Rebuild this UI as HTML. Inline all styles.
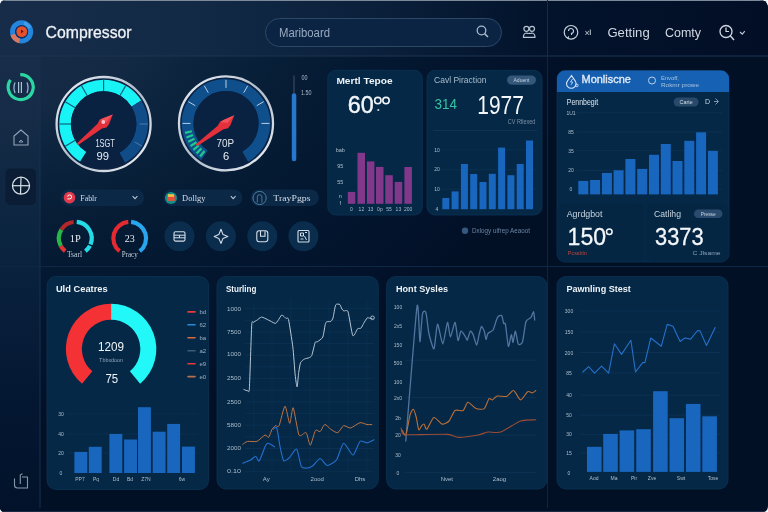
<!DOCTYPE html>
<html><head><meta charset="utf-8"><title>Compressor Dashboard</title>
<style>
html,body{margin:0;padding:0;background:#f4f6f8;}
body{width:768px;height:512px;overflow:hidden;}
svg{display:block;font-family:"Liberation Sans", sans-serif;}
</style></head><body>
<svg width="768" height="512" viewBox="0 0 768 512">
<defs>
<radialGradient id="bg" gradientUnits="userSpaceOnUse" cx="0" cy="0" r="1" gradientTransform="translate(0,0) scale(580,430)"><stop offset="0" stop-color="#182e48"/><stop offset="0.25" stop-color="#142a44"/><stop offset="0.36" stop-color="#0c243e"/><stop offset="0.62" stop-color="#041932"/><stop offset="0.9" stop-color="#02122a"/><stop offset="1" stop-color="#021026"/></radialGradient>
<linearGradient id="hdr" gradientUnits="userSpaceOnUse" x1="0" y1="0" x2="768" y2="0"><stop offset="0" stop-color="#172c48"/><stop offset="0.25" stop-color="#122a46"/><stop offset="0.5" stop-color="#0a1f3a"/><stop offset="0.7" stop-color="#03132c"/><stop offset="1" stop-color="#020e26"/></linearGradient>
<linearGradient id="side" gradientUnits="userSpaceOnUse" x1="0" y1="56" x2="0" y2="512"><stop offset="0" stop-color="#172d4a"/><stop offset="0.15" stop-color="#152b46"/><stop offset="0.4" stop-color="#0b2440"/><stop offset="0.75" stop-color="#041732"/><stop offset="1" stop-color="#02122a"/></linearGradient>
<linearGradient id="silver" x1="0" y1="0" x2="1" y2="1"><stop offset="0" stop-color="#eef2f8"/><stop offset="0.5" stop-color="#b0bccb"/><stop offset="1" stop-color="#f0f4f8"/></linearGradient>
<linearGradient id="mhdr" x1="0" y1="0" x2="1" y2="0"><stop offset="0" stop-color="#155cac"/><stop offset="1" stop-color="#1662b4"/></linearGradient>
<clipPath id="frame"><path d="M6,0 H759 Q768,0 768,9 V506 Q768,512 762,512 H5 Q0,512 0,507 V6 Q0,0 6,0 Z"/></clipPath>
</defs>
<rect x="0" y="0" width="768" height="512" fill="#f4f6f8"/>
<g clip-path="url(#frame)">
<rect x="0" y="0" width="768" height="512" fill="url(#bg)"/>
<rect x="0" y="0" width="768" height="56" fill="url(#hdr)"/>
<rect x="0" y="56" width="40" height="456" fill="url(#side)"/>
<path d="M0,0.5 H768" stroke="#7d8a9a" stroke-width="1.2"/>
<path d="M0,511.5 H768" stroke="#1c2a44" stroke-width="1"/>
</g>
<line x1="0" y1="56" x2="768" y2="56" stroke="#1c3452" stroke-width="1"/>
<line x1="40" y1="56" x2="40" y2="508" stroke="#17304e" stroke-width="1"/>
<line x1="547.5" y1="0" x2="547.5" y2="56" stroke="#132a48" stroke-width="1"/>
<line x1="547.5" y1="56" x2="547.5" y2="508" stroke="#0e2442" stroke-width="1"/>
<line x1="0" y1="266.5" x2="768" y2="266.5" stroke="#0f2746" stroke-width="1"/>
<circle cx="21.6" cy="31.8" r="9.1" fill="none" stroke="#2485dc" stroke-width="5"/>
<path d="M12.9,34.5 A9.1,9.1 0 0 0 19.5,40.7" fill="none" stroke="#d8785e" stroke-width="5"/>
<path d="M24,23 A9.1,9.1 0 0 1 29.8,28" fill="none" stroke="#5aaaf0" stroke-width="3" opacity="0.6"/>
<circle cx="21.6" cy="31.8" r="6.6" fill="#10306a"/>
<circle cx="21.8" cy="31.6" r="5.4" fill="#e6502a"/>
<path d="M21,29.6 L23.6,31.6 L21,33.6 Z" fill="#5a1a10"/>
<text x="45.6" y="38.3" font-size="17" fill="#eef2f7" text-anchor="start" font-weight="normal" textLength="86" lengthAdjust="spacingAndGlyphs" stroke="#eef2f7" stroke-width="0.3">Compressor</text>
<rect x="265.5" y="18.5" width="236" height="28" rx="14" fill="#0b2444" stroke="#2b4867" stroke-width="1"/>
<text x="279" y="36.7" font-size="12" fill="#98aabf" text-anchor="start" font-weight="normal" textLength="51" lengthAdjust="spacingAndGlyphs" >Mariboard</text>
<circle cx="481.5" cy="30.5" r="4.3" fill="none" stroke="#aab8c8" stroke-width="1.3"/>
<line x1="484.6" y1="33.6" x2="488" y2="37" stroke="#aab8c8" stroke-width="1.5"/>
<circle cx="526.4" cy="28.8" r="2.5" fill="none" stroke="#b8c4d2" stroke-width="1.2"/>
<circle cx="532" cy="28.8" r="2.5" fill="none" stroke="#b8c4d2" stroke-width="1.2"/>
<path d="M523.4,37.4 c0,-2.8 1.2,-4.2 3,-4.4 c1.2,0.6 2.2,0.6 2.8,0.2 c0.6,0.4 1.6,0.4 2.8,-0.2 c1.8,0.2 3,1.6 3,4.4 z" fill="none" stroke="#b8c4d2" stroke-width="1.2" stroke-linejoin="round"/>
<circle cx="571" cy="32.3" r="6.8" fill="none" stroke="#c8d2de" stroke-width="1.2"/>
<path d="M568.5,31 a2.5,2.5 0 1 1 3,2.4 v1.6 M569,36.5 l-1.5,1.5" fill="none" stroke="#c8d2de" stroke-width="1.1"/>
<text x="584.5" y="35.5" font-size="9" fill="#c0cad6" text-anchor="start" font-weight="normal" >×</text>
<line x1="590.3" y1="29.5" x2="590.3" y2="35" stroke="#c0cad6" stroke-width="1"/>
<text x="607.4" y="37" font-size="12.6" fill="#d0d8e2" text-anchor="start" font-weight="normal" textLength="42.3" lengthAdjust="spacingAndGlyphs" >Getting</text>
<text x="665" y="37" font-size="12.6" fill="#d0d8e2" text-anchor="start" font-weight="normal" textLength="36" lengthAdjust="spacingAndGlyphs" >Comty</text>
<circle cx="726" cy="31.5" r="6" fill="none" stroke="#d0d8e2" stroke-width="1.3"/>
<path d="M726,27.5 v4 h3" fill="none" stroke="#d0d8e2" stroke-width="1.2"/>
<line x1="730.2" y1="35.8" x2="734" y2="40" stroke="#d0d8e2" stroke-width="1.4"/>
<path d="M740,32 l2.3,2.2 l2.5,-3" fill="none" stroke="#c0cad6" stroke-width="1.1"/>
<path d="M20.26,74.61 A12.5,12.5 0 1 1 10.46,79.93" fill="none" stroke="#2bd7a2" stroke-width="3.2" />
<path d="M15,82.5 q-2,5 0,10.5 M27,82.5 q2,5 0,10.5" fill="none" stroke="#8fb2cc" stroke-width="1.3"/>
<line x1="18.6" y1="82" x2="18.6" y2="93" stroke="#a8c4d8" stroke-width="1.2"/>
<line x1="21.4" y1="82" x2="21.4" y2="93" stroke="#a8c4d8" stroke-width="1.2"/>
<path d="M14,145 v-9 l7,-6 l7,6 v9 z" fill="none" stroke="#93a6bb" stroke-width="1.1"/>
<path d="M19,142 l2,-2 l2,2 z" fill="none" stroke="#93a6bb" stroke-width="0.9"/>
<rect x="5.5" y="168.5" width="30.5" height="36.5" rx="5" fill="#0b1d35" />
<circle cx="21" cy="185.7" r="8.5" fill="none" stroke="#d8e0e8" stroke-width="1.3"/>
<line x1="12.5" y1="185.7" x2="29.5" y2="185.7" stroke="#d8e0e8" stroke-width="1.2"/>
<line x1="21" y1="177.2" x2="20.5" y2="194.2" stroke="#d8e0e8" stroke-width="1.2"/>
<path d="M14.5,478.5 v6.5 q0,3 3,3 h10 v-11 h-5.5 M20.3,484 v-9 l2.2,-1.4" fill="none" stroke="#8797aa" stroke-width="1.1" stroke-linejoin="round"/>
<circle cx="103.6" cy="124" r="47" fill="#0a2142" stroke="url(#silver)" stroke-width="2.3"/>
<path d="M83.20,156.65 A38.5,38.5 0 1 1 136.25,103.60" fill="none" stroke="#18f4f6" stroke-width="11.7" />
<path d="M136.25,103.60 A38.5,38.5 0 0 1 122.27,157.67" fill="none" stroke="#0f4c88" stroke-width="11.7" />
<line x1="75.28" y1="140.35" x2="65.24" y2="146.15" stroke="#0b5a78" stroke-width="1.1"/>
<line x1="70.90" y1="124.00" x2="59.30" y2="124.00" stroke="#0b5a78" stroke-width="1.1"/>
<line x1="75.28" y1="107.65" x2="65.24" y2="101.85" stroke="#0b5a78" stroke-width="1.1"/>
<line x1="87.25" y1="95.68" x2="81.45" y2="85.64" stroke="#0b5a78" stroke-width="1.1"/>
<line x1="103.60" y1="91.30" x2="103.60" y2="79.70" stroke="#0b5a78" stroke-width="1.1"/>
<line x1="119.95" y1="95.68" x2="125.75" y2="85.64" stroke="#0b5a78" stroke-width="1.1"/>
<line x1="139.60" y1="124.00" x2="147.90" y2="124.00" stroke="#4a7ab0" stroke-width="1"/>
<line x1="134.78" y1="142.00" x2="141.96" y2="146.15" stroke="#4a7ab0" stroke-width="1"/>
<circle cx="103.6" cy="124" r="32.8" fill="#0a2242"/>
<path d="M76.5,143.8 L97.5,123.8 L99.5,120 L103,118.2 L112.8,114.4 L109,124.3 L106.5,127.4 L102,128.5 L78.2,145 Z" fill="#e4303a"/>
<path d="M99.5,120 L103,118.2 L112.8,114.4 L106.5,122 Z" fill="#f05058"/>
<circle cx="103.3" cy="122" r="1.9" fill="#ffc0c8"/>
<text x="95.4" y="147.2" font-size="10.5" fill="#dfe6ee" text-anchor="start" font-weight="normal" textLength="19.5" lengthAdjust="spacingAndGlyphs" >1SGT</text>
<text x="96.6" y="159.9" font-size="11" fill="#e8eef4" text-anchor="start" font-weight="normal" textLength="12.5" lengthAdjust="spacingAndGlyphs" >99</text>
<circle cx="226" cy="123.4" r="47" fill="#0a2142" stroke="url(#silver)" stroke-width="2.3"/>
<path d="M204.53,155.24 A38.4,38.4 0 1 1 245.20,156.66" fill="none" stroke="#0f4f8c" stroke-width="11.8" />
<line x1="190.50" y1="123.40" x2="182.50" y2="123.40" stroke="#b8d0e8" stroke-width="1"/>
<line x1="195.26" y1="105.65" x2="188.33" y2="101.65" stroke="#b8d0e8" stroke-width="1"/>
<line x1="208.25" y1="92.66" x2="204.25" y2="85.73" stroke="#b8d0e8" stroke-width="1"/>
<line x1="226.00" y1="87.90" x2="226.00" y2="79.90" stroke="#b8d0e8" stroke-width="1"/>
<line x1="243.75" y1="92.66" x2="247.75" y2="85.73" stroke="#b8d0e8" stroke-width="1"/>
<line x1="256.74" y1="105.65" x2="263.67" y2="101.65" stroke="#b8d0e8" stroke-width="1"/>
<line x1="261.50" y1="123.40" x2="269.50" y2="123.40" stroke="#b8d0e8" stroke-width="1"/>
<line x1="204.45" y1="150.98" x2="200.14" y2="156.50" stroke="#22c98c" stroke-width="2.2"/>
<line x1="201.47" y1="148.36" x2="196.56" y2="153.36" stroke="#22c98c" stroke-width="2.2"/>
<line x1="198.80" y1="145.43" x2="193.36" y2="149.83" stroke="#22c98c" stroke-width="2.2"/>
<line x1="196.48" y1="142.21" x2="190.58" y2="145.97" stroke="#22c98c" stroke-width="2.2"/>
<line x1="194.54" y1="138.74" x2="188.25" y2="141.81" stroke="#22c98c" stroke-width="2.2"/>
<line x1="193.01" y1="135.08" x2="186.41" y2="137.42" stroke="#22c98c" stroke-width="2.2"/>
<line x1="191.90" y1="131.27" x2="185.08" y2="132.85" stroke="#22c98c" stroke-width="2.2"/>
<circle cx="226" cy="123.4" r="32.5" fill="#0a2242"/>
<path d="M195.5,144.6 L217.5,126 L220,122 L223.5,120 L234.3,115.2 L230.5,125 L228,128.2 L223.5,129.2 L197.3,146 Z" fill="#e4303a"/>
<path d="M220,122 L223.5,120 L234.3,115.2 L227.5,123 Z" fill="#f05058"/>
<text x="216.6" y="147.2" font-size="11" fill="#dfe6ee" text-anchor="start" font-weight="normal" textLength="17.6" lengthAdjust="spacingAndGlyphs" >70P</text>
<text x="222.9" y="160.3" font-size="11" fill="#e8eef4" text-anchor="start" font-weight="normal" textLength="6.2" lengthAdjust="spacingAndGlyphs" >6</text>
<line x1="294" y1="76" x2="294" y2="94" stroke="#2c3e56" stroke-width="1.6" stroke-linecap="round"/>
<rect x="291.8" y="93.3" width="4.5" height="68" rx="2.2" fill="#2778cc" />
<text x="301.4" y="80.3" font-size="6.5" fill="#b0bccb" text-anchor="start" font-weight="normal" textLength="6" lengthAdjust="spacingAndGlyphs" >00</text>
<text x="301" y="95.2" font-size="6.5" fill="#b0bccb" text-anchor="start" font-weight="normal" textLength="10.5" lengthAdjust="spacingAndGlyphs" >1.50</text>
<rect x="60.7" y="189.4" width="83.39999999999999" height="16.5" rx="8.25" fill="#0b2847" />
<path d="M132.6,196.2 l2.4,2.4 l2.4,-2.4" fill="none" stroke="#b8c6d6" stroke-width="1.1"/>
<circle cx="69.5" cy="197.6" r="5.8" fill="#e23a4c"/>
<path d="M67.6,196.8 a2,2 0 1 1 2,2.1 h-2.2" fill="none" stroke="#fff" stroke-width="1"/>
<text x="80.3" y="200.7" font-size="8.5" fill="#d4dde8" text-anchor="start" font-weight="normal" textLength="16.6" lengthAdjust="spacingAndGlyphs" font-family="Liberation Serif, serif">Fablr</text>
<rect x="163.3" y="189.4" width="79.0" height="16.5" rx="8.25" fill="#0b2847" />
<path d="M230.8,196.2 l2.4,2.4 l2.4,-2.4" fill="none" stroke="#b8c6d6" stroke-width="1.1"/>
<circle cx="171" cy="198" r="6" fill="#139088"/>
<rect x="167.2" y="195.3" width="7.6" height="5.6" fill="#e8503a"/>
<rect x="168" y="194.2" width="6" height="2.6" fill="#f4c24a"/>
<text x="182.1" y="200.9" font-size="8.5" fill="#d4dde8" text-anchor="start" font-weight="normal" textLength="23.3" lengthAdjust="spacingAndGlyphs" font-family="Liberation Serif, serif">Dollgy</text>
<rect x="250.7" y="189.4" width="68.19999999999999" height="16.5" rx="8.25" fill="#0b2847" />
<circle cx="259.6" cy="198" r="6.6" fill="#0b2644" stroke="#4e7fa4" stroke-width="1"/>
<path d="M257.3,202.5 v-5.5 a2.3,2.3 0 0 1 4.6,0 v5.5" fill="none" stroke="#4e7fa4" stroke-width="0.9"/>
<text x="273.3" y="200.9" font-size="8.5" fill="#d4dde8" text-anchor="start" font-weight="normal" textLength="37.2" lengthAdjust="spacingAndGlyphs" font-family="Liberation Serif, serif">TrayPgps</text>
<path d="M65.20,251.22 A16.4,16.4 0 0 1 60.82,246.00" fill="none" stroke="#e03434" stroke-width="4.2" />
<path d="M60.82,246.00 A16.4,16.4 0 0 1 61.39,229.61" fill="none" stroke="#2ab54a" stroke-width="4.2" />
<path d="M61.39,229.61 A16.4,16.4 0 0 1 73.59,221.99" fill="none" stroke="#b4282c" stroke-width="4.2" />
<path d="M76.73,221.96 A16.4,16.4 0 0 1 90.51,244.44" fill="none" stroke="#26dbe8" stroke-width="4.2" />
<path d="M89.91,245.75 A16.4,16.4 0 0 1 85.40,251.22" fill="none" stroke="#26dbe8" stroke-width="4.2" />
<text x="75.3" y="241.6" font-size="10" fill="#e8eef4" text-anchor="middle" font-weight="normal" textLength="11" lengthAdjust="spacingAndGlyphs" font-family="Liberation Serif, serif">1P</text>
<text x="74.5" y="257.2" font-size="7.5" fill="#c4d0dc" text-anchor="middle" font-weight="normal" textLength="15" lengthAdjust="spacingAndGlyphs" font-family="Liberation Serif, serif">Tsarl</text>
<path d="M119.60,251.22 A16.4,16.4 0 0 1 128.27,221.96" fill="none" stroke="#e22a30" stroke-width="4.2" />
<path d="M131.13,221.96 A16.4,16.4 0 0 1 139.80,251.22" fill="none" stroke="#2aa6ee" stroke-width="4.2" />
<text x="129.7" y="241.6" font-size="10" fill="#e8eef4" text-anchor="middle" font-weight="normal" textLength="10" lengthAdjust="spacingAndGlyphs" font-family="Liberation Serif, serif">23</text>
<text x="129.7" y="257.2" font-size="7.5" fill="#c4d0dc" text-anchor="middle" font-weight="normal" textLength="16" lengthAdjust="spacingAndGlyphs" font-family="Liberation Serif, serif">Pracy</text>
<circle cx="179.5" cy="236.3" r="15" fill="#0a2d4d"/>
<circle cx="220.9" cy="236.3" r="15" fill="#0a2d4d"/>
<circle cx="262.3" cy="236.3" r="15" fill="#0a2d4d"/>
<circle cx="303.4" cy="236.3" r="15" fill="#0a2d4d"/>
<rect x="174" y="231.8" width="11" height="9.3" rx="1.5" fill="none" stroke="#d6dee8" stroke-width="1.1"/><line x1="174" y1="235.2" x2="185" y2="235.2" stroke="#d6dee8"/><line x1="174" y1="237.8" x2="185" y2="237.8" stroke="#d6dee8"/><line x1="179.5" y1="235.2" x2="179.5" y2="237.8" stroke="#d6dee8"/>
<path d="M221,229.2 L223,234.6 L227.8,236.6 L223,238.4 L221,243.4 L218.8,238.4 L214.2,236.6 L218.8,234.6 Z" fill="none" stroke="#d6dee8" stroke-width="1.1" stroke-linejoin="round"/>
<rect x="256.8" y="230.8" width="11" height="11" rx="2.5" fill="none" stroke="#d6dee8" stroke-width="1.1"/><path d="M260.5,231 v5.2 h4.5 v-5" fill="none" stroke="#d6dee8" stroke-width="1.1"/>
<rect x="298" y="230.5" width="11" height="11.5" rx="1" fill="none" stroke="#d6dee8" stroke-width="1.1"/><path d="M300.5,233 h3 v3 h-3 z M304.5,236 l2,4 M300.5,239 h3 M305,232.5 h2" fill="none" stroke="#d6dee8" stroke-width="1"/>
<rect x="327.8" y="70.3" width="94.5" height="144.7" rx="8" fill="#042845" stroke="#0c3356" stroke-width="0.8"/>
<text x="336.4" y="83.5" font-size="9.8" fill="#eef3f8" text-anchor="start" font-weight="bold" textLength="56.3" lengthAdjust="spacingAndGlyphs" >Mertl Tepoe</text>
<text x="347.8" y="112.8" font-size="23.5" fill="#f2f6fa" text-anchor="start" font-weight="normal" textLength="26" lengthAdjust="spacingAndGlyphs" stroke="#f2f6fa" stroke-width="0.4">60</text>
<circle cx="377.8" cy="100.6" r="3.2" fill="none" stroke="#f2f6fa" stroke-width="1.6"/>
<circle cx="386" cy="100.6" r="3.2" fill="none" stroke="#f2f6fa" stroke-width="1.6"/>
<circle cx="378.3" cy="110" r="1.1" fill="#c8d4e0"/>
<text x="340.3" y="152" font-size="5.5" fill="#b0bfcf" text-anchor="middle" font-weight="normal" >bab</text>
<text x="340.3" y="168" font-size="5.5" fill="#b0bfcf" text-anchor="middle" font-weight="normal" >95</text>
<text x="340.3" y="184" font-size="5.5" fill="#b0bfcf" text-anchor="middle" font-weight="normal" >55</text>
<text x="340.3" y="198" font-size="5.5" fill="#b0bfcf" text-anchor="middle" font-weight="normal" >n</text>
<text x="340.3" y="205" font-size="5.5" fill="#b0bfcf" text-anchor="middle" font-weight="normal" >f</text>
<rect x="347.8" y="191.9" width="7.5" height="11.900000000000006" rx="0" fill="#82388a" />
<rect x="357.5" y="152.8" width="7.5" height="51.0" rx="0" fill="#82388a" />
<rect x="366.9" y="161.4" width="7.5" height="42.400000000000006" rx="0" fill="#82388a" />
<rect x="376" y="166.9" width="7.5" height="36.900000000000006" rx="0" fill="#82388a" />
<rect x="385.3" y="175.2" width="7.5" height="28.600000000000023" rx="0" fill="#82388a" />
<rect x="394.7" y="181.9" width="7.5" height="21.900000000000006" rx="0" fill="#82388a" />
<rect x="404.4" y="167" width="7.5" height="36.80000000000001" rx="0" fill="#82388a" />
<text x="351.5" y="210.8" font-size="5" fill="#b0bfcf" text-anchor="middle" font-weight="normal" >0</text>
<text x="361.4" y="210.8" font-size="5" fill="#b0bfcf" text-anchor="middle" font-weight="normal" >12</text>
<text x="370.6" y="210.8" font-size="5" fill="#b0bfcf" text-anchor="middle" font-weight="normal" >13</text>
<text x="379.9" y="210.8" font-size="5" fill="#b0bfcf" text-anchor="middle" font-weight="normal" >0p</text>
<text x="389" y="210.8" font-size="5" fill="#b0bfcf" text-anchor="middle" font-weight="normal" >55</text>
<text x="398.4" y="210.8" font-size="5" fill="#b0bfcf" text-anchor="middle" font-weight="normal" >13</text>
<text x="408.1" y="210.8" font-size="5" fill="#b0bfcf" text-anchor="middle" font-weight="normal" >200</text>
<rect x="427" y="70.4" width="115" height="144.6" rx="8" fill="#042845" stroke="#0c3356" stroke-width="0.8"/>
<text x="434" y="83" font-size="9.5" fill="#a9bccd" text-anchor="start" font-weight="normal" textLength="52.6" lengthAdjust="spacingAndGlyphs" >Cavl Piraction</text>
<rect x="507" y="75.5" width="29" height="9.2" rx="4.6" fill="#34577a" />
<text x="521.5" y="82.1" font-size="5.5" fill="#c4d4e2" text-anchor="middle" font-weight="normal" textLength="16" lengthAdjust="spacingAndGlyphs" >Aduent</text>
<text x="434.5" y="109.4" font-size="15" fill="#35c4a4" text-anchor="start" font-weight="normal" textLength="22.5" lengthAdjust="spacingAndGlyphs" >314</text>
<text x="477.3" y="114.2" font-size="25.5" fill="#f4f7fa" text-anchor="start" font-weight="normal" textLength="46.6" lengthAdjust="spacingAndGlyphs" >1977</text>
<text x="507.8" y="123.6" font-size="6.5" fill="#7f93a8" text-anchor="start" font-weight="normal" textLength="27.6" lengthAdjust="spacingAndGlyphs" >CV Rtlexed</text>
<line x1="433" y1="130.5" x2="537" y2="130.5" stroke="#113456" stroke-width="1"/>
<line x1="441" y1="150" x2="536" y2="150" stroke="#12385c" stroke-width="0.6"/>
<line x1="441" y1="169.8" x2="536" y2="169.8" stroke="#12385c" stroke-width="0.6"/>
<line x1="441" y1="189.2" x2="536" y2="189.2" stroke="#12385c" stroke-width="0.6"/>
<text x="437" y="151.5" font-size="5" fill="#b0bfcf" text-anchor="middle" font-weight="normal" >10</text>
<text x="437" y="171.3" font-size="5" fill="#b0bfcf" text-anchor="middle" font-weight="normal" >20</text>
<text x="437" y="190.7" font-size="5" fill="#b0bfcf" text-anchor="middle" font-weight="normal" >10</text>
<text x="437" y="210.5" font-size="5" fill="#b0bfcf" text-anchor="middle" font-weight="normal" >4</text>
<rect x="442.3" y="198" width="7" height="11.199999999999989" rx="0" fill="#1966bf" />
<rect x="451.6" y="191.4" width="7" height="17.799999999999983" rx="0" fill="#1966bf" />
<rect x="460.9" y="164" width="7" height="45.19999999999999" rx="0" fill="#1966bf" />
<rect x="470.2" y="174" width="7" height="35.19999999999999" rx="0" fill="#1966bf" />
<rect x="479.5" y="182" width="7" height="27.19999999999999" rx="0" fill="#1966bf" />
<rect x="488.8" y="173.8" width="7" height="35.39999999999998" rx="0" fill="#1966bf" />
<rect x="498.1" y="147.6" width="7" height="61.599999999999994" rx="0" fill="#1966bf" />
<rect x="507.4" y="175.2" width="7" height="34.0" rx="0" fill="#1966bf" />
<rect x="516.7" y="164" width="7" height="45.19999999999999" rx="0" fill="#1966bf" />
<rect x="526.0" y="140.5" width="7" height="68.69999999999999" rx="0" fill="#1966bf" />
<circle cx="465" cy="230.7" r="3.2" fill="#34587e"/>
<text x="472" y="233.2" font-size="7" fill="#6a83a0" text-anchor="start" font-weight="normal" textLength="58" lengthAdjust="spacingAndGlyphs" >Dxlogy uifrep Aeaoot</text>
<rect x="557" y="70.6" width="172" height="191.4" rx="8" fill="#042845" stroke="#0c3356" stroke-width="0.8"/>
<path d="M557,92 V78.6 a8,8 0 0 1 8,-8 H721 a8,8 0 0 1 8,8 V92 Z" fill="url(#mhdr)"/>
<path d="M571.5,75.5 c-2,3 -5,5.5 -5,8 a4.8,4.8 0 0 0 9.6,0 c0,-2.5 -3,-5 -4.6,-8 z" fill="none" stroke="#d8e6f6" stroke-width="1.1"/>
<path d="M572.5,79 l-2,3 h2.2 l-1.6,2.8" fill="none" stroke="#d8e6f6" stroke-width="0.8"/>
<circle cx="576.8" cy="85.4" r="1.3" fill="none" stroke="#d8e6f6" stroke-width="0.9"/>
<text x="581.6" y="82.8" font-size="10.5" fill="#dfeaf6" text-anchor="start" font-weight="normal" textLength="49.2" lengthAdjust="spacingAndGlyphs" stroke="#dfeaf6" stroke-width="0.35">Monliscne</text>
<circle cx="652" cy="80.5" r="3.5" fill="none" stroke="#b8d0ea" stroke-width="1"/>
<text x="661" y="80.4" font-size="5.5" fill="#a8c2de" text-anchor="start" font-weight="normal" textLength="18" lengthAdjust="spacingAndGlyphs" >Envoff,</text>
<text x="661" y="86.7" font-size="5.5" fill="#a8c2de" text-anchor="start" font-weight="normal" textLength="38" lengthAdjust="spacingAndGlyphs" >Rokmr prowe</text>
<text x="566.75" y="104.8" font-size="8.5" fill="#dde6f0" text-anchor="start" font-weight="normal" textLength="31.5" lengthAdjust="spacingAndGlyphs" >Pennbegit</text>
<rect x="673.6" y="97.5" width="25" height="9" rx="4.5" fill="#29496a" />
<text x="686.1" y="104.2" font-size="5.5" fill="#d4dee8" text-anchor="middle" font-weight="normal" textLength="13" lengthAdjust="spacingAndGlyphs" >Carte</text>
<text x="705" y="104.3" font-size="7" fill="#c8d4e0" text-anchor="start" font-weight="normal" >D</text>
<path d="M715.5,98.5 l3,3 l-3,3 M714,101.5 h4" fill="none" stroke="#8ea4bc" stroke-width="0.9"/>
<line x1="577" y1="112.8" x2="722" y2="112.8" stroke="#12385c" stroke-width="0.6"/>
<text x="571" y="114.8" font-size="5" fill="#b0bfcf" text-anchor="middle" font-weight="normal" >1U1</text>
<line x1="577" y1="131.9" x2="722" y2="131.9" stroke="#12385c" stroke-width="0.6"/>
<text x="571" y="133.9" font-size="5" fill="#b0bfcf" text-anchor="middle" font-weight="normal" >85</text>
<line x1="577" y1="150.6" x2="722" y2="150.6" stroke="#12385c" stroke-width="0.6"/>
<text x="571" y="152.6" font-size="5" fill="#b0bfcf" text-anchor="middle" font-weight="normal" >35</text>
<line x1="577" y1="170.3" x2="722" y2="170.3" stroke="#12385c" stroke-width="0.6"/>
<text x="571" y="172.3" font-size="5" fill="#b0bfcf" text-anchor="middle" font-weight="normal" >20</text>
<line x1="577" y1="189.3" x2="722" y2="189.3" stroke="#12385c" stroke-width="0.6"/>
<text x="571" y="191.3" font-size="5" fill="#b0bfcf" text-anchor="middle" font-weight="normal" >0</text>
<rect x="578.3" y="180.9" width="10" height="13.5" rx="0" fill="#1966bf" />
<rect x="590.1" y="180" width="10" height="14.400000000000006" rx="0" fill="#1966bf" />
<rect x="601.9" y="172.9" width="10" height="21.5" rx="0" fill="#1966bf" />
<rect x="613.6" y="170.3" width="10" height="24.099999999999994" rx="0" fill="#1966bf" />
<rect x="625.4" y="159" width="10" height="35.400000000000006" rx="0" fill="#1966bf" />
<rect x="637.2" y="168.9" width="10" height="25.5" rx="0" fill="#1966bf" />
<rect x="649.0" y="154.8" width="10" height="39.599999999999994" rx="0" fill="#1966bf" />
<rect x="660.8" y="144" width="10" height="50.400000000000006" rx="0" fill="#1966bf" />
<rect x="672.5" y="161" width="10" height="33.400000000000006" rx="0" fill="#1966bf" />
<rect x="684.3" y="140.8" width="10" height="53.599999999999994" rx="0" fill="#1966bf" />
<rect x="696.1" y="132.3" width="10" height="62.099999999999994" rx="0" fill="#1966bf" />
<rect x="707.9" y="150.9" width="10" height="43.5" rx="0" fill="#1966bf" />
<rect x="557.5" y="203.7" width="86.5" height="57.8" rx="7" fill="#042642" />
<rect x="646.7" y="203.7" width="81.8" height="57.8" rx="7" fill="#042642" />
<text x="566.75" y="216.7" font-size="9" fill="#c8d4e0" text-anchor="start" font-weight="normal" textLength="35.7" lengthAdjust="spacingAndGlyphs" >Agrdgbot</text>
<text x="567.6" y="244.8" font-size="24" fill="#f4f7fa" text-anchor="start" font-weight="normal" textLength="38.5" lengthAdjust="spacingAndGlyphs" stroke="#f4f7fa" stroke-width="0.3">150</text>
<circle cx="609.3" cy="231.8" r="2.8" fill="none" stroke="#f4f7fa" stroke-width="1.5"/>
<text x="567.8" y="254.6" font-size="5.5" fill="#c0463c" text-anchor="start" font-weight="normal" textLength="19" lengthAdjust="spacingAndGlyphs" >Pcssbln</text>
<text x="654" y="216.7" font-size="9" fill="#c8d4e0" text-anchor="start" font-weight="normal" textLength="27" lengthAdjust="spacingAndGlyphs" >Catlihg</text>
<rect x="694" y="209.5" width="28.5" height="8.5" rx="4.25" fill="#2a4b6e" />
<text x="708.2" y="215.9" font-size="5.5" fill="#c8d4e0" text-anchor="middle" font-weight="normal" textLength="15" lengthAdjust="spacingAndGlyphs" >Presse</text>
<text x="655" y="244.8" font-size="24" fill="#f4f7fa" text-anchor="start" font-weight="normal" textLength="48.5" lengthAdjust="spacingAndGlyphs" stroke="#f4f7fa" stroke-width="0.3">3373</text>
<text x="692.5" y="254.6" font-size="6" fill="#8ea2b8" text-anchor="start" font-weight="normal" textLength="28" lengthAdjust="spacingAndGlyphs" >C Jlsame</text>
<rect x="47" y="276.5" width="161.6" height="213" rx="9" fill="#042845" stroke="#0c3356" stroke-width="0.8"/>
<text x="55.9" y="292.3" font-size="9.5" fill="#eef3f8" text-anchor="start" font-weight="bold" textLength="51.8" lengthAdjust="spacingAndGlyphs" >Uld Ceatres</text>
<path d="M87.19,377.50 A37.2,37.2 0 0 1 111.10,311.80" fill="none" stroke="#f43236" stroke-width="16" />
<path d="M111.10,311.80 A37.2,37.2 0 0 1 135.01,377.50" fill="none" stroke="#22f8f8" stroke-width="16" />
<text x="111.1" y="350.8" font-size="13" fill="#f0f4f8" text-anchor="middle" font-weight="normal" textLength="26" lengthAdjust="spacingAndGlyphs" >1209</text>
<text x="111.1" y="361.5" font-size="6" fill="#8ea2b8" text-anchor="middle" font-weight="normal" textLength="24" lengthAdjust="spacingAndGlyphs" >Tbbxdoon</text>
<text x="111.8" y="383" font-size="12" fill="#f0f4f8" text-anchor="middle" font-weight="normal" textLength="12.7" lengthAdjust="spacingAndGlyphs" >75</text>
<line x1="188" y1="311.9" x2="195" y2="311.9" stroke="#e83a3a" stroke-width="1.6" stroke-linecap="round"/>
<text x="199.5" y="313.9" font-size="6" fill="#9fb0c4" text-anchor="start" font-weight="normal" >bd</text>
<line x1="188" y1="324.8" x2="195" y2="324.8" stroke="#2a8ad8" stroke-width="1.6" stroke-linecap="round"/>
<text x="199.5" y="326.84999999999997" font-size="6" fill="#9fb0c4" text-anchor="start" font-weight="normal" >62</text>
<line x1="188" y1="337.8" x2="195" y2="337.8" stroke="#d86a40" stroke-width="1.6" stroke-linecap="round"/>
<text x="199.5" y="339.79999999999995" font-size="6" fill="#9fb0c4" text-anchor="start" font-weight="normal" >ba</text>
<line x1="188" y1="350.8" x2="195" y2="350.8" stroke="#3a5a7a" stroke-width="1.6" stroke-linecap="round"/>
<text x="199.5" y="352.75" font-size="6" fill="#9fb0c4" text-anchor="start" font-weight="normal" >a2</text>
<line x1="188" y1="363.7" x2="195" y2="363.7" stroke="#e83a3a" stroke-width="1.6" stroke-linecap="round"/>
<text x="199.5" y="365.7" font-size="6" fill="#9fb0c4" text-anchor="start" font-weight="normal" >e9</text>
<line x1="188" y1="376.6" x2="195" y2="376.6" stroke="#b87050" stroke-width="1.6" stroke-linecap="round"/>
<text x="199.5" y="378.65" font-size="6" fill="#9fb0c4" text-anchor="start" font-weight="normal" >e0</text>
<line x1="68" y1="414" x2="198" y2="414" stroke="#12385c" stroke-width="0.6"/>
<text x="61" y="416" font-size="5" fill="#b0bfcf" text-anchor="middle" font-weight="normal" >30</text>
<line x1="68" y1="434" x2="198" y2="434" stroke="#12385c" stroke-width="0.6"/>
<text x="61" y="436" font-size="5" fill="#b0bfcf" text-anchor="middle" font-weight="normal" >40</text>
<line x1="68" y1="453" x2="198" y2="453" stroke="#12385c" stroke-width="0.6"/>
<text x="61" y="455" font-size="5" fill="#b0bfcf" text-anchor="middle" font-weight="normal" >20</text>
<text x="61" y="475" font-size="5" fill="#b0bfcf" text-anchor="middle" font-weight="normal" >0</text>
<rect x="74.4" y="451.9" width="12.9" height="21.100000000000023" rx="0" fill="#1966bf" />
<rect x="88.8" y="446.8" width="12.9" height="26.19999999999999" rx="0" fill="#1966bf" />
<rect x="109.4" y="434" width="12.9" height="39" rx="0" fill="#1966bf" />
<rect x="124.1" y="439.5" width="12.9" height="33.5" rx="0" fill="#1966bf" />
<rect x="138" y="407.2" width="12.9" height="65.80000000000001" rx="0" fill="#1966bf" />
<rect x="152.7" y="431.7" width="12.9" height="41.30000000000001" rx="0" fill="#1966bf" />
<rect x="167.2" y="423.9" width="12.9" height="49.10000000000002" rx="0" fill="#1966bf" />
<rect x="182" y="446.6" width="12.9" height="26.399999999999977" rx="0" fill="#1966bf" />
<text x="80" y="480.5" font-size="5" fill="#b0bfcf" text-anchor="middle" font-weight="normal" >PP7</text>
<text x="96" y="480.5" font-size="5" fill="#b0bfcf" text-anchor="middle" font-weight="normal" >Pq</text>
<text x="116" y="480.5" font-size="5" fill="#b0bfcf" text-anchor="middle" font-weight="normal" >Dd</text>
<text x="130" y="480.5" font-size="5" fill="#b0bfcf" text-anchor="middle" font-weight="normal" >Bd</text>
<text x="146" y="480.5" font-size="5" fill="#b0bfcf" text-anchor="middle" font-weight="normal" >Z7N</text>
<text x="182" y="480.5" font-size="5" fill="#b0bfcf" text-anchor="middle" font-weight="normal" >6w</text>
<rect x="217" y="276.6" width="161.3" height="212.4" rx="9" fill="#042845" stroke="#0c3356" stroke-width="0.8"/>
<text x="226" y="292.3" font-size="9.5" fill="#eef3f8" text-anchor="start" font-weight="bold" textLength="30.4" lengthAdjust="spacingAndGlyphs" >Sturling</text>
<line x1="245" y1="308.7" x2="374" y2="308.7" stroke="#113659" stroke-width="0.6"/>
<line x1="245" y1="320.3" x2="374" y2="320.3" stroke="#113659" stroke-width="0.6"/>
<line x1="245" y1="332.0" x2="374" y2="332.0" stroke="#113659" stroke-width="0.6"/>
<line x1="245" y1="343.6" x2="374" y2="343.6" stroke="#113659" stroke-width="0.6"/>
<line x1="245" y1="355.3" x2="374" y2="355.3" stroke="#113659" stroke-width="0.6"/>
<line x1="245" y1="366.9" x2="374" y2="366.9" stroke="#113659" stroke-width="0.6"/>
<line x1="245" y1="378.6" x2="374" y2="378.6" stroke="#113659" stroke-width="0.6"/>
<line x1="245" y1="390.2" x2="374" y2="390.2" stroke="#113659" stroke-width="0.6"/>
<line x1="245" y1="401.9" x2="374" y2="401.9" stroke="#113659" stroke-width="0.6"/>
<line x1="245" y1="413.6" x2="374" y2="413.6" stroke="#113659" stroke-width="0.6"/>
<line x1="245" y1="425.2" x2="374" y2="425.2" stroke="#113659" stroke-width="0.6"/>
<line x1="245" y1="436.9" x2="374" y2="436.9" stroke="#113659" stroke-width="0.6"/>
<line x1="245" y1="448.5" x2="374" y2="448.5" stroke="#113659" stroke-width="0.6"/>
<line x1="245" y1="460.1" x2="374" y2="460.1" stroke="#113659" stroke-width="0.6"/>
<line x1="245" y1="471.8" x2="374" y2="471.8" stroke="#113659" stroke-width="0.6"/>
<line x1="253.4" y1="300" x2="253.4" y2="472" stroke="#0f3357" stroke-width="0.6"/>
<line x1="272.1" y1="300" x2="272.1" y2="472" stroke="#0f3357" stroke-width="0.6"/>
<line x1="290.8" y1="300" x2="290.8" y2="472" stroke="#0f3357" stroke-width="0.6"/>
<line x1="310" y1="300" x2="310" y2="472" stroke="#0f3357" stroke-width="0.6"/>
<line x1="329" y1="300" x2="329" y2="472" stroke="#0f3357" stroke-width="0.6"/>
<line x1="348" y1="300" x2="348" y2="472" stroke="#0f3357" stroke-width="0.6"/>
<line x1="367" y1="300" x2="367" y2="472" stroke="#0f3357" stroke-width="0.6"/>
<text x="234" y="310.7" font-size="5" fill="#b0bfcf" text-anchor="middle" font-weight="normal" textLength="14" lengthAdjust="spacingAndGlyphs" >1000</text>
<text x="234" y="334" font-size="5" fill="#b0bfcf" text-anchor="middle" font-weight="normal" textLength="14" lengthAdjust="spacingAndGlyphs" >7500</text>
<text x="234" y="356.4" font-size="5" fill="#b0bfcf" text-anchor="middle" font-weight="normal" textLength="14" lengthAdjust="spacingAndGlyphs" >1000</text>
<text x="234" y="379.8" font-size="5" fill="#b0bfcf" text-anchor="middle" font-weight="normal" textLength="14" lengthAdjust="spacingAndGlyphs" >2500</text>
<text x="234" y="404.3" font-size="5" fill="#b0bfcf" text-anchor="middle" font-weight="normal" textLength="14" lengthAdjust="spacingAndGlyphs" >2500</text>
<text x="234" y="426.5" font-size="5" fill="#b0bfcf" text-anchor="middle" font-weight="normal" textLength="14" lengthAdjust="spacingAndGlyphs" >5800</text>
<text x="234" y="450" font-size="5" fill="#b0bfcf" text-anchor="middle" font-weight="normal" textLength="14" lengthAdjust="spacingAndGlyphs" >2000</text>
<text x="234" y="473.4" font-size="5" fill="#b0bfcf" text-anchor="middle" font-weight="normal" textLength="14" lengthAdjust="spacingAndGlyphs" >0.10</text>
<circle cx="372.5" cy="317.8" r="1.8" fill="none" stroke="#b8c8d8" stroke-width="0.9"/>
<path d="M243.9,389.5 C244.3,389.6 247.2,391.0 247.8,390.8 C248.4,390.6 249.0,394.4 249.4,387.9 C249.8,381.3 251.3,331.9 251.7,325.3 C252.1,318.8 252.8,322.9 253.3,322.4 C253.8,321.9 255.8,320.9 256.6,320.4 C257.4,319.9 260.4,317.2 261.5,317.1 C262.6,317.0 266.0,318.9 267.4,319.5 C268.8,320.1 274.1,323.3 275.2,323.4 C276.3,323.5 277.5,321.2 278.1,320.4 C278.7,319.6 280.9,315.6 281.5,315.2 C282.1,314.8 283.6,316.2 284.0,316.5 C284.4,316.8 285.6,318.2 286.0,318.5 C286.4,318.8 287.8,316.7 288.5,319.5 C289.2,322.3 292.1,341.3 292.8,346.8 C293.5,352.3 294.7,370.2 295.1,374.2 C295.5,378.2 296.7,387.1 297.1,386.9 C297.5,386.7 298.3,374.7 298.7,372.3 C299.1,369.9 300.0,363.8 300.6,362.5 C301.2,361.2 303.6,359.5 304.5,359.0 C305.4,358.5 308.4,358.1 309.1,357.7 C309.8,357.3 311.2,356.9 311.8,355.4 C312.4,353.9 314.6,343.8 315.2,342.4 C315.8,341.0 316.5,342.3 317.3,341.8 C318.1,341.3 322.0,338.9 322.8,337.0 C323.6,335.1 325.0,324.8 325.5,323.3 C326.0,321.8 326.9,321.9 327.5,321.7 C328.1,321.5 330.4,321.7 331.0,321.3 C331.6,320.9 332.5,319.5 333.0,317.9 C333.5,316.3 335.0,306.2 335.7,304.9 C336.4,303.6 339.2,304.1 339.8,304.5 C340.4,304.9 341.5,308.4 341.9,309.0 C342.3,309.6 343.3,310.7 343.9,311.0 C344.5,311.3 347.1,309.2 348.0,311.7 C348.9,314.2 351.8,333.9 352.8,335.6 C353.8,337.3 356.8,329.6 357.6,328.8 C358.4,328.1 360.4,328.7 361.0,328.1 C361.6,327.6 363.1,324.3 363.7,323.3 C364.3,322.3 366.6,318.4 367.2,317.9 C367.8,317.4 368.7,318.0 369.2,318.1 C369.7,318.2 371.6,318.5 371.9,318.5" fill="none" stroke="#b8c8d8" stroke-width="1" stroke-linejoin="round" stroke-linecap="round" />
<path d="M242.8,444.4 C243.3,444.1 245.9,441.7 247.5,441.4 C249.1,441.1 255.0,442.1 256.9,441.4 C258.8,440.7 263.7,435.4 265.0,435.0 C266.3,434.6 267.8,438.0 268.6,437.4 C269.4,436.8 271.3,430.5 272.1,429.2 C272.9,427.9 274.8,426.1 275.6,425.7 C276.4,425.3 278.1,427.9 279.1,425.7 C280.1,423.5 283.8,406.5 285.0,406.2 C286.2,405.9 288.8,423.2 289.7,423.4 C290.6,423.6 292.2,406.4 293.2,407.7 C294.2,409.0 297.6,432.2 299.0,435.0 C300.4,437.8 304.8,431.6 306.1,432.7 C307.4,433.8 309.3,445.5 310.3,445.2 C311.3,444.9 314.4,431.9 315.5,430.4 C316.6,428.9 319.1,432.3 320.1,431.6 C321.1,430.9 323.6,424.8 324.8,424.5 C326.0,424.2 329.3,428.3 330.7,429.2 C332.1,430.1 336.3,433.1 337.7,432.7 C339.1,432.3 342.2,426.2 343.6,425.7 C345.0,425.2 348.8,428.3 350.6,428.0 C352.4,427.7 358.2,423.1 360.0,422.7 C361.8,422.3 365.7,424.3 367.0,424.5 C368.3,424.7 371.2,424.5 371.7,424.5" fill="none" stroke="#c07444" stroke-width="1" stroke-linejoin="round" stroke-linecap="round" />
<path d="M242.8,463.2 C243.7,462.8 249.6,460.5 251.0,459.7 C252.4,458.9 254.8,456.1 255.7,456.2 C256.6,456.3 258.2,461.9 259.2,460.9 C260.2,459.9 264.1,448.8 265.0,446.8 C265.9,444.8 266.7,443.6 267.4,443.3 C268.1,443.0 270.1,444.0 270.9,444.4 C271.7,444.8 274.0,446.5 274.4,446.8" fill="none" stroke="#2470d0" stroke-width="1.1" stroke-linejoin="round" stroke-linecap="round" />
<path d="M273.3,429.2 C273.7,429.1 276.0,425.9 276.8,428.0 C277.6,430.1 279.5,444.3 280.3,448.0 C281.1,451.7 282.8,459.9 283.8,460.9 C284.8,461.9 288.3,458.6 289.7,457.3 C291.1,456.0 295.4,448.1 296.7,449.1 C298.0,450.1 300.1,464.6 301.4,466.7 C302.7,468.8 307.1,468.0 308.4,467.9 C309.7,467.8 311.8,466.5 313.1,465.5 C314.4,464.5 318.5,458.5 320.1,458.5 C321.7,458.5 325.4,465.4 327.2,465.5 C329.0,465.6 334.8,462.2 336.6,459.7 C338.4,457.2 341.8,443.8 343.6,443.3 C345.4,442.8 351.2,455.2 353.0,455.0 C354.8,454.8 358.4,442.8 360.0,441.4 C361.6,440.0 365.4,443.0 367.0,442.8 C368.6,442.6 373.2,440.1 374.0,439.8" fill="none" stroke="#2470d0" stroke-width="1.1" stroke-linejoin="round" stroke-linecap="round" />
<text x="266.2" y="481" font-size="6" fill="#b0bfcf" text-anchor="middle" font-weight="normal" >Ay</text>
<text x="317.3" y="481" font-size="6" fill="#b0bfcf" text-anchor="middle" font-weight="normal" >2ood</text>
<text x="360" y="481" font-size="6" fill="#b0bfcf" text-anchor="middle" font-weight="normal" >Dhs</text>
<rect x="386.6" y="276.6" width="160.3" height="212.4" rx="9" fill="#042845" stroke="#0c3356" stroke-width="0.8"/>
<text x="396" y="292.3" font-size="9.5" fill="#eef3f8" text-anchor="start" font-weight="bold" textLength="52" lengthAdjust="spacingAndGlyphs" >Hont Sysles</text>
<line x1="405" y1="360.2" x2="537" y2="360.2" stroke="#14395e" stroke-width="0.6"/>
<line x1="405" y1="397.6" x2="537" y2="397.6" stroke="#14395e" stroke-width="0.6"/>
<line x1="405" y1="435" x2="537" y2="435" stroke="#14395e" stroke-width="0.6"/>
<line x1="405" y1="472.6" x2="537" y2="472.6" stroke="#14395e" stroke-width="0.6"/>
<text x="398" y="309" font-size="5" fill="#b0bfcf" text-anchor="middle" font-weight="normal" >100</text>
<text x="398" y="327.8" font-size="5" fill="#b0bfcf" text-anchor="middle" font-weight="normal" >2x5</text>
<text x="398" y="347" font-size="5" fill="#b0bfcf" text-anchor="middle" font-weight="normal" >150</text>
<text x="398" y="364.6" font-size="5" fill="#b0bfcf" text-anchor="middle" font-weight="normal" >500</text>
<text x="398" y="384" font-size="5" fill="#b0bfcf" text-anchor="middle" font-weight="normal" >100</text>
<text x="398" y="399.6" font-size="5" fill="#b0bfcf" text-anchor="middle" font-weight="normal" >2x0</text>
<text x="398" y="419.5" font-size="5" fill="#b0bfcf" text-anchor="middle" font-weight="normal" >2b</text>
<text x="398" y="437" font-size="5" fill="#b0bfcf" text-anchor="middle" font-weight="normal" >20</text>
<text x="398" y="456.5" font-size="5" fill="#b0bfcf" text-anchor="middle" font-weight="normal" >30</text>
<text x="398" y="474.6" font-size="5" fill="#b0bfcf" text-anchor="middle" font-weight="normal" >0</text>
<path d="M405.8,441.0 C406.9,427.6 415.6,316.5 417.0,306.6 C418.4,296.7 419.4,340.9 419.9,341.7 C420.4,342.5 421.8,317.9 422.3,314.8 C422.8,311.8 424.2,311.2 424.6,311.2 C425.0,311.2 426.0,312.5 426.4,314.8 C426.8,317.1 428.2,330.6 429.0,334.0 C429.8,337.4 433.1,349.8 434.0,348.8 C434.9,347.8 436.6,324.6 437.5,324.1 C438.4,323.6 441.8,344.2 442.8,344.0 C443.8,343.8 446.7,323.1 447.5,322.4 C448.3,321.7 449.6,337.0 450.4,337.0 C451.2,337.0 454.3,322.0 455.1,322.4 C455.9,322.8 457.4,339.6 458.0,340.5 C458.6,341.4 460.2,331.6 461.0,331.2 C461.8,330.8 465.0,336.1 465.6,337.0 C466.2,337.9 466.8,340.6 467.3,340.0 C467.8,339.4 469.7,331.7 470.3,331.2 C470.9,330.7 472.6,333.3 473.2,334.7 C473.8,336.1 476.1,345.2 476.7,345.2 C477.3,345.2 478.6,336.6 479.1,334.7 C479.6,332.8 480.9,326.9 481.4,326.5 C481.9,326.1 483.8,329.9 484.3,331.2 C484.8,332.5 485.7,339.2 486.1,339.4 C486.5,339.6 487.2,334.4 487.9,333.5 C488.6,332.6 492.2,331.4 493.1,330.0 C494.0,328.6 496.0,320.8 496.6,319.4 C497.2,318.0 498.5,316.2 499.0,315.9 C499.5,315.5 501.4,315.1 501.9,315.9 C502.4,316.7 503.3,322.7 503.7,323.5 C504.1,324.3 504.9,321.8 505.4,324.1 C505.9,326.4 507.8,345.3 508.4,346.4 C509.0,347.5 510.8,335.1 511.3,334.7 C511.8,334.3 512.6,342.7 513.0,342.3 C513.4,341.9 514.9,331.0 515.4,331.2 C515.9,331.4 517.6,342.9 518.3,344.0 C519.0,345.1 521.6,344.5 522.4,342.3 C523.2,340.1 525.2,324.1 525.9,321.8 C526.5,319.5 528.4,319.4 528.9,318.9 C529.4,318.4 530.7,317.8 531.2,317.1 C531.7,316.4 533.2,311.5 533.6,311.8 C534.0,312.1 534.6,319.2 534.7,320.0" fill="none" stroke="#5275a0" stroke-width="1.3" stroke-linejoin="round" stroke-linecap="round" />
<path d="M402.3,430.4 C402.7,430.9 404.9,436.7 405.8,435.0 C406.7,433.3 409.2,418.1 410.0,415.2 C410.8,412.3 412.6,409.0 413.3,409.3 C414.0,409.6 415.7,415.2 416.3,417.5 C416.9,419.8 418.1,428.8 418.7,429.7 C419.3,430.6 421.1,426.3 421.7,425.7 C422.3,425.1 423.5,423.7 424.1,424.1 C424.7,424.5 425.8,429.9 426.9,429.2 C428.0,428.5 432.2,418.1 433.9,417.5 C435.6,416.9 440.4,423.7 442.1,424.1 C443.8,424.5 447.7,422.5 449.1,421.0 C450.5,419.5 453.4,411.7 455.0,410.5 C456.6,409.3 461.8,411.4 463.2,410.5 C464.6,409.6 466.5,402.5 467.9,402.3 C469.3,402.1 474.3,407.9 476.1,408.6 C477.9,409.3 482.9,409.7 484.3,408.6 C485.7,407.5 488.1,399.7 489.0,398.7 C489.9,397.7 491.6,400.2 492.5,399.9 C493.4,399.6 495.6,396.4 497.2,396.0 C498.8,395.6 504.8,397.0 506.6,396.4 C508.4,395.8 512.0,390.1 513.6,390.5 C515.2,390.9 519.0,399.8 520.6,399.9 C522.2,400.0 526.3,392.5 527.6,391.7 C528.9,390.9 531.4,393.0 532.3,392.9 C533.2,392.8 535.4,390.8 535.8,390.5" fill="none" stroke="#bd6f37" stroke-width="1.1" stroke-linejoin="round" stroke-linecap="round" />
<path d="M401.1,428.0 C401.4,428.7 401.3,433.7 403.4,434.4 C405.5,435.1 415.0,434.6 420.0,434.6 C425.0,434.6 443.7,434.1 448.0,434.4 C452.3,434.7 455.1,437.3 458.5,437.4 C461.9,437.5 475.1,435.6 478.4,435.0 C481.7,434.4 485.3,432.3 487.8,432.0 C490.3,431.7 497.1,433.2 500.7,432.0 C504.3,430.8 516.7,422.4 520.6,421.0 C524.5,419.6 534.1,419.9 535.8,419.8" fill="none" stroke="#9c4c34" stroke-width="1.1" stroke-linejoin="round" stroke-linecap="round" />
<text x="446.8" y="481" font-size="6" fill="#b0bfcf" text-anchor="middle" font-weight="normal" >Nvet</text>
<text x="499.5" y="481" font-size="6" fill="#b0bfcf" text-anchor="middle" font-weight="normal" >2aog</text>
<rect x="557" y="276.6" width="171" height="212.4" rx="9" fill="#042845" stroke="#0c3356" stroke-width="0.8"/>
<text x="566.4" y="292.3" font-size="9.5" fill="#eef3f8" text-anchor="start" font-weight="bold" textLength="64.5" lengthAdjust="spacingAndGlyphs" >Pawnling Stest</text>
<line x1="580" y1="311" x2="720" y2="311" stroke="#12385c" stroke-width="0.6"/>
<text x="569" y="313" font-size="5" fill="#b0bfcf" text-anchor="middle" font-weight="normal" >300</text>
<line x1="580" y1="332.1" x2="720" y2="332.1" stroke="#12385c" stroke-width="0.6"/>
<text x="569" y="334.1" font-size="5" fill="#b0bfcf" text-anchor="middle" font-weight="normal" >150</text>
<line x1="580" y1="352.5" x2="720" y2="352.5" stroke="#12385c" stroke-width="0.6"/>
<text x="569" y="354.5" font-size="5" fill="#b0bfcf" text-anchor="middle" font-weight="normal" >200</text>
<line x1="580" y1="373.1" x2="720" y2="373.1" stroke="#12385c" stroke-width="0.6"/>
<text x="569" y="375.1" font-size="5" fill="#b0bfcf" text-anchor="middle" font-weight="normal" >85</text>
<line x1="580" y1="395.2" x2="720" y2="395.2" stroke="#12385c" stroke-width="0.6"/>
<text x="569" y="397.2" font-size="5" fill="#b0bfcf" text-anchor="middle" font-weight="normal" >40</text>
<line x1="580" y1="415.2" x2="720" y2="415.2" stroke="#12385c" stroke-width="0.6"/>
<text x="569" y="417.2" font-size="5" fill="#b0bfcf" text-anchor="middle" font-weight="normal" >50</text>
<line x1="580" y1="434.4" x2="720" y2="434.4" stroke="#12385c" stroke-width="0.6"/>
<text x="569" y="436.4" font-size="5" fill="#b0bfcf" text-anchor="middle" font-weight="normal" >30</text>
<line x1="580" y1="453.1" x2="720" y2="453.1" stroke="#12385c" stroke-width="0.6"/>
<text x="569" y="455.1" font-size="5" fill="#b0bfcf" text-anchor="middle" font-weight="normal" >15</text>
<text x="569" y="474.6" font-size="5" fill="#b0bfcf" text-anchor="middle" font-weight="normal" >0</text>
<polyline points="582.8,372.0 588.7,366.6 594.5,373.1 601.6,366.1 608.6,373.1 614.4,343.8 621.5,354.4 630.9,340.3 635.5,372.0 642.6,362.6 644.9,362.6 650.8,338.0 661.3,346.2 667.2,324.4 673.0,326.2 680.1,341.5 684.8,338.0 690.6,339.1 697.6,330.5 700.0,330.9 706.5,345.5 715.2,327.4" fill="none" stroke="#2570cc" stroke-width="1.1" stroke-linejoin="round" stroke-linecap="round" />
<rect x="587" y="446.8" width="14.6" height="25.099999999999966" rx="0" fill="#1966bf" />
<rect x="603.2" y="433.9" width="14.6" height="38.0" rx="0" fill="#1966bf" />
<rect x="619.6" y="430.4" width="14.6" height="41.5" rx="0" fill="#1966bf" />
<rect x="636.2" y="429.2" width="14.6" height="42.69999999999999" rx="0" fill="#1966bf" />
<rect x="653.1" y="391.2" width="14.6" height="80.69999999999999" rx="0" fill="#1966bf" />
<rect x="669.5" y="418.2" width="14.6" height="53.69999999999999" rx="0" fill="#1966bf" />
<rect x="685.9" y="403.9" width="14.6" height="68.0" rx="0" fill="#1966bf" />
<rect x="702.3" y="416.3" width="14.6" height="55.599999999999966" rx="0" fill="#1966bf" />
<text x="594" y="479.5" font-size="5" fill="#b0bfcf" text-anchor="middle" font-weight="normal" >Aod</text>
<text x="614" y="479.5" font-size="5" fill="#b0bfcf" text-anchor="middle" font-weight="normal" >Ma</text>
<text x="634" y="479.5" font-size="5" fill="#b0bfcf" text-anchor="middle" font-weight="normal" >Pir</text>
<text x="652" y="479.5" font-size="5" fill="#b0bfcf" text-anchor="middle" font-weight="normal" >Zve</text>
<text x="681" y="479.5" font-size="5" fill="#b0bfcf" text-anchor="middle" font-weight="normal" >Swt</text>
<text x="713" y="479.5" font-size="5" fill="#b0bfcf" text-anchor="middle" font-weight="normal" >Tose</text>
</svg>
</body></html>
